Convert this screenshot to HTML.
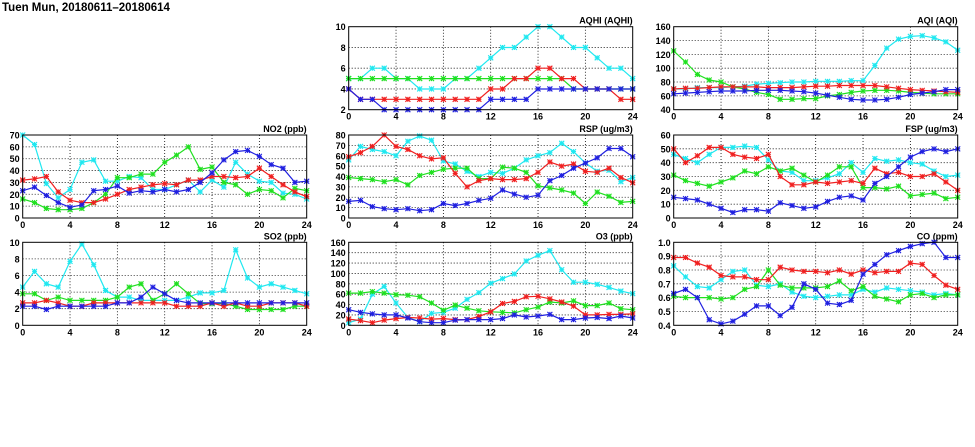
<!DOCTYPE html>
<html><head><meta charset="utf-8"><style>
html,body{margin:0;padding:0;background:#fff;}
svg{display:block;}
text{font-family:"Liberation Sans",sans-serif;font-size:9px;font-weight:bold;fill:#000;}
</style></head><body>
<svg id="s" width="975" height="447" xmlns="http://www.w3.org/2000/svg">
<text x="2" y="11" style="font-size:11.5px">Tuen Mun, 20180611&#8211;20180614</text>
</svg>
<script>
const C=["#20e8f0","#20e020","#f02020","#2020e0"];
const P=[
{t:"AQHI (AQHI)",x:348.7,y:26.7,mn:2,mx:10,st:2,d:[
[5,5,6,6,5,5,4,4,4,5,5,6,7,8,8,9,10,10,9,8,8,7,6,6,5],
[5,5,5,5,5,5,5,5,5,5,5,5,5,5,5,5,5,5,5,4,4,4,4,4,4],
[4,3,3,3,3,3,3,3,3,3,3,3,4,4,5,5,6,6,5,5,4,4,4,3,3],
[4,3,3,2,2,2,2,2,2,2,2,2,3,3,3,3,4,4,4,4,4,4,4,4,4]]},
{t:"AQI (AQI)",x:673.7,y:26.7,mn:40,mx:160,st:20,d:[
[70,70,72,72,72,73,74,77,78,79,80,80,81,81,81,82,82,104,129,142,146,147,144,138,126],
[125,109,91,83,80,73,70,65,62,55,55,56,56,60,62,65,67,68,68,67,65,64,63,63,63],
[70,71,71,72,73,73,73,73,72,72,72,73,74,74,75,75,75,75,73,71,69,68,67,66,65],
[63,64,65,66,67,67,67,68,68,68,67,66,64,61,58,55,54,54,55,58,62,64,66,69,69]]},
{t:"NO2 (ppb)",x:22.7,y:135,mn:0,mx:70,st:10,d:[
[70,62,29,17,24,47,49,31,31,35,34,24,24,28,32,22,32,26,47,37,31,30,21,20,16],
[16,13,8,7,7,8,13,20,34,34,37,37,47,53,60,41,43,30,28,20,24,23,17,25,23],
[32,33,35,22,15,13,13,16,20,24,26,28,29,28,32,32,35,35,34,35,42,35,28,22,18],
[23,26,19,13,9,11,23,24,27,21,23,22,24,22,24,30,38,49,56,57,52,45,42,30,31]]},
{t:"RSP (ug/m3)",x:348.7,y:135,mn:0,mx:80,st:10,d:[
[56,69,66,64,60,74,79,75,55,52,45,40,44,43,48,56,60,63,72,64,53,45,46,35,39],
[39,38,37,35,37,32,41,44,47,48,48,38,38,49,48,44,31,29,27,24,14,25,21,15,16],
[59,63,69,80,69,66,60,57,58,43,30,36,38,37,37,38,44,54,50,52,45,44,48,39,34],
[16,17,11,9,8,9,7,8,14,12,14,17,19,27,23,20,22,36,41,48,53,58,67,67,59]]},
{t:"FSP (ug/m3)",x:673.7,y:135,mn:0,mx:60,st:10,d:[
[46,43,40,46,51,51,52,51,42,34,33,27,27,29,32,40,33,43,41,42,40,39,34,30,31],
[31,27,25,23,26,29,34,32,37,34,36,31,26,31,37,37,22,22,21,23,16,17,18,14,15],
[50,40,45,51,51,46,44,43,46,30,24,24,26,25,26,27,25,36,32,33,30,30,32,26,20],
[15,14,13,10,7,4,6,6,5,11,9,7,8,12,15,16,13,25,30,37,44,48,50,48,50]]},
{t:"SO2 (ppb)",x:22.7,y:242.3,mn:0,mx:10,st:2,d:[
[4.6,6.5,5,4.6,7.7,9.8,7.3,4.2,3.4,3.4,3,3,3,3,3.4,3.9,3.9,4.2,9.1,5.7,4.6,5,4.6,4.2,3.8],
[3.8,3.8,3,3.4,3,3,3,3,3.4,4.6,5,3,3.8,5,3.8,2.6,2.6,2.6,2.3,1.9,1.9,1.9,1.9,2.3,2.3],
[2.7,2.7,3,2.7,2.3,2.3,2.7,2.7,2.7,2.7,2.7,2.7,2.7,2.3,2.3,2.3,2.7,2.3,2.7,2.3,2.3,2.7,2.7,2.7,2.3],
[2.3,2.3,1.9,2.3,2.3,2.3,2.3,2.3,2.7,2.7,3.4,4.6,3.8,3,2.7,2.7,2.7,2.7,2.7,2.7,2.7,2.7,2.7,2.7,2.7]]},
{t:"O3 (ppb)",x:348.7,y:242.3,mn:0,mx:160,st:20,d:[
[5,12,60,75,43,15,7,23,25,33,50,63,81,90,99,124,135,144,107,83,83,79,73,66,61],
[62,62,65,62,59,58,55,43,29,39,33,28,26,25,24,30,35,45,43,47,38,38,43,32,30],
[12,9,5,10,13,15,14,12,13,11,11,17,26,42,46,55,56,51,45,37,20,20,21,21,22],
[30,25,22,20,20,14,7,5,5,10,11,11,11,13,20,16,18,21,11,11,14,15,13,18,14]]},
{t:"CO (ppm)",x:673.7,y:242.3,mn:0.4,mx:1.0,st:0.1,f:1,d:[
[.83,.75,.68,.67,.73,.79,.80,.69,.68,.70,.64,.61,.60,.61,.62,.62,.66,.64,.67,.66,.65,.64,.62,.63,.62],
[.61,.60,.60,.60,.59,.60,.66,.68,.80,.69,.67,.67,.67,.68,.72,.65,.68,.61,.59,.57,.62,.63,.60,.62,.62],
[.89,.89,.85,.82,.76,.75,.75,.73,.73,.82,.80,.79,.79,.78,.80,.77,.80,.78,.79,.79,.85,.84,.76,.69,.66],
[.63,.66,.60,.44,.41,.43,.48,.54,.54,.47,.53,.70,.66,.56,.55,.58,.77,.84,.91,.94,.97,.99,1.0,.89,.89]]}
];
const W=284,H=83;let o="";
for(const p of P){
 const X=h=>p.x+h*W/24, Y=v=>p.y+H-(v-p.mn)/(p.mx-p.mn)*H;
 const n=Math.round((p.mx-p.mn)/p.st);
 for(let i=0;i<=n;i++){const v=p.mn+i*p.st,y=Y(v);
  if(i>0&&i<n)o+=`<line x1="${p.x}" y1="${y}" x2="${p.x+W}" y2="${y}" stroke="#000" stroke-width="0.8" stroke-dasharray="1,2"/>`;
  o+=`<text x="${p.x-3}" y="${y+3.5}" text-anchor="end">${p.f?v.toFixed(1):Math.round(v)}</text>`;}
 for(let h=0;h<=24;h+=4){const x=X(h);
  if(h>0&&h<24)o+=`<line x1="${x}" y1="${p.y}" x2="${x}" y2="${p.y+H}" stroke="#000" stroke-width="0.8" stroke-dasharray="1,2"/>`;
  o+=`<text x="${x}" y="${p.y+H+10}" text-anchor="middle">${h}</text>`;}
 o+=`<text x="${p.x+W}" y="${p.y-3}" text-anchor="end">${p.t}</text>`;
 p.d.forEach((s,k)=>{const c=C[k];
  o+=`<polyline fill="none" stroke="${c}" stroke-width="1.2" points="${s.map((v,h)=>X(h).toFixed(1)+","+Y(v).toFixed(1)).join(" ")}"/>`;
  s.forEach((v,h)=>{const x=X(h),y=Y(v),r=2.5;
   o+=`<path d="M${x-r} ${y}H${x+r}M${x} ${y-r}V${y+r}M${x-r} ${y-r}L${x+r} ${y+r}M${x-r} ${y+r}L${x+r} ${y-r}" stroke="${c}" stroke-width="1.1"/>`;});
 });
 o+=`<rect x="${p.x}" y="${p.y}" width="${W}" height="${H}" fill="none" stroke="#000" stroke-width="1"/>`;
}
document.getElementById("s").insertAdjacentHTML("beforeend",o);
</script>
</body></html>
